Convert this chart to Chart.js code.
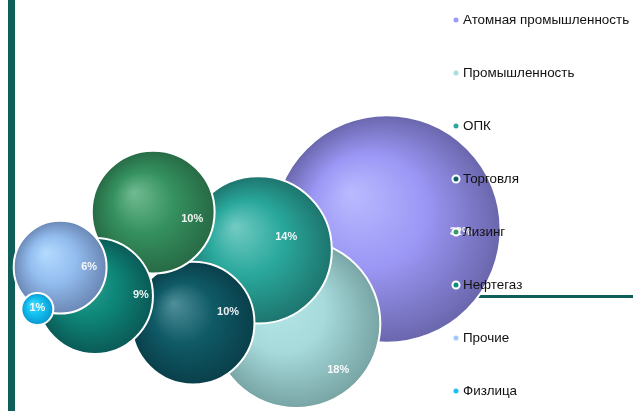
<!DOCTYPE html>
<html>
<head>
<meta charset="utf-8">
<script src="https://cdn.jsdelivr.net/npm/chart.js@4.4.0/dist/chart.umd.min.js"></script>
<style>
    html, body { margin: 0; padding: 0; background: #fff; }
    #wrap { position: relative; width: 633px; height: 411px; overflow: hidden; }
    .bar-v { position: absolute; left: 8px; top: 0; width: 7px; height: 411px; background: #0d5f57; }
    .bar-h { position: absolute; left: 440px; top: 295px; width: 193px; height: 3px; background: #0d5f57; }
    #bubbleChart { position: absolute; left: 0; top: 0; }
</style>
</head>
<body>
<div id="wrap">
    <div class="bar-v"></div>
    <div class="bar-h"></div>
    <canvas id="bubbleChart" width="633" height="411"></canvas>
</div>
<script>
// 1. ДАННЫЕ
const categories = ['Атомная промышленность', 'Промышленность', 'ОПК', 'Торговля', 'Лизинг', 'Нефтегаз', 'Прочие', 'Физлица'];
const shares = [32, 18, 14, 10, 10, 9, 6, 1];          // доля, %
const posX = [61.1, 46.8, 40.8, 30.5, 24.2, 15.0, 9.5, 5.9];
const posY = [44.3, 21.2, 39.2, 21.4, 48.4, 28.0, 35.0, 24.8];

// 2. ОФОРМЛЕНИЕ: [блик, основной, край]
const palette = [
    ['#babaff', '#9b97f5', '#6a66ac'],
    ['#b8e8ea', '#a6dadb', '#78a4a4'],
    ['#72cbc3', '#2aa89c', '#1d756e'],
    ['#4f8f99', '#0f5a66', '#093f4a'],
    ['#71bb92', '#35915f', '#276a45'],
    ['#3aa99a', '#0e887a', '#0a5a56'],
    ['#b4dbff', '#93bdef', '#6a87b5'],
    ['#52dcff', '#12c2f2', '#0a96cf']
];
const legendDots = ['#9a9af2', '#a8dde0', '#2aa89c', '#0b5e6b', '#3a9a6a', '#0f8a7e', '#a0c8f8', '#18c0f0'];
// сдвиг подписи от центра пузыря, px
const labelShift = [[74, 3], [42, 46], [28, -13], [35, -11], [39, 7], [46, -1], [29, 0], [0, -1]];

// радиус по доле
const bubbleR = (v) => 21 * Math.sqrt(v) - 5;

function sphere(i) {
    return (ctx) => {
        const chart = ctx.chart;
        if (!chart.chartArea) return palette[i][1];
        const px = chart.scales.x.getPixelForValue(posX[i]);
        const py = chart.scales.y.getPixelForValue(posY[i]);
        const r = bubbleR(shares[i]);
        const g = chart.ctx.createRadialGradient(px - r * 0.32, py - r * 0.32, 0, px, py, r);
        g.addColorStop(0, palette[i][0]);
        g.addColorStop(0.5, palette[i][1]);
        g.addColorStop(1, palette[i][2]);
        return g;
    };
}

const datasets = categories.map((name, i) => ({
    label: name,
    data: [{ x: posX[i], y: posY[i], r: bubbleR(shares[i]) }],
    backgroundColor: sphere(i),
    borderColor: '#ffffff',
    borderWidth: 2,
    clip: false,
    order: categories.length - 1 - i
}));

// 3. ПОДПИСИ ПРОЦЕНТОВ
const pctLabels = {
    id: 'pctLabels',
    afterDatasetsDraw(chart) {
        const c = chart.ctx;
        c.save();
        c.font = 'bold 11px "Liberation Sans", Arial, sans-serif';
        c.fillStyle = 'rgba(255,255,255,0.92)';
        c.textAlign = 'center';
        c.textBaseline = 'middle';
        shares.forEach((v, i) => {
            const pt = chart.getDatasetMeta(i).data[0];
            c.fillText(v + '%', pt.x + labelShift[i][0], pt.y + labelShift[i][1]);
        });
        c.restore();
    }
};

// 4. ЛЕГЕНДА (поверх пузырей)
const sideLegend = {
    id: 'sideLegend',
    afterDraw(chart) {
        const c = chart.ctx;
        c.save();
        c.font = '13.4px "Liberation Sans", Arial, sans-serif';
        c.textBaseline = 'middle';
        categories.forEach((name, i) => {
            const y = 20 + i * 53;
            c.beginPath();
            c.arc(456, y, 3.5, 0, Math.PI * 2);
            c.fillStyle = legendDots[i];
            c.fill();
            c.lineWidth = 2;
            c.strokeStyle = '#ffffff';
            c.stroke();
            c.fillStyle = '#111111';
            c.fillText(name, 463, y);
        });
        c.restore();
    }
};

new Chart(document.getElementById('bubbleChart'), {
    type: 'bubble',
    data: { datasets },
    options: {
        responsive: false,
        animation: false,
        events: [],
        layout: { padding: 0, autoPadding: false },
        scales: {
            x: { display: false, min: 0, max: 100 },
            y: { display: false, min: 0, max: 100 }
        },
        plugins: {
            legend: { display: false },
            tooltip: { enabled: false }
        }
    },
    plugins: [pctLabels, sideLegend]
});
</script>
</body>
</html>
